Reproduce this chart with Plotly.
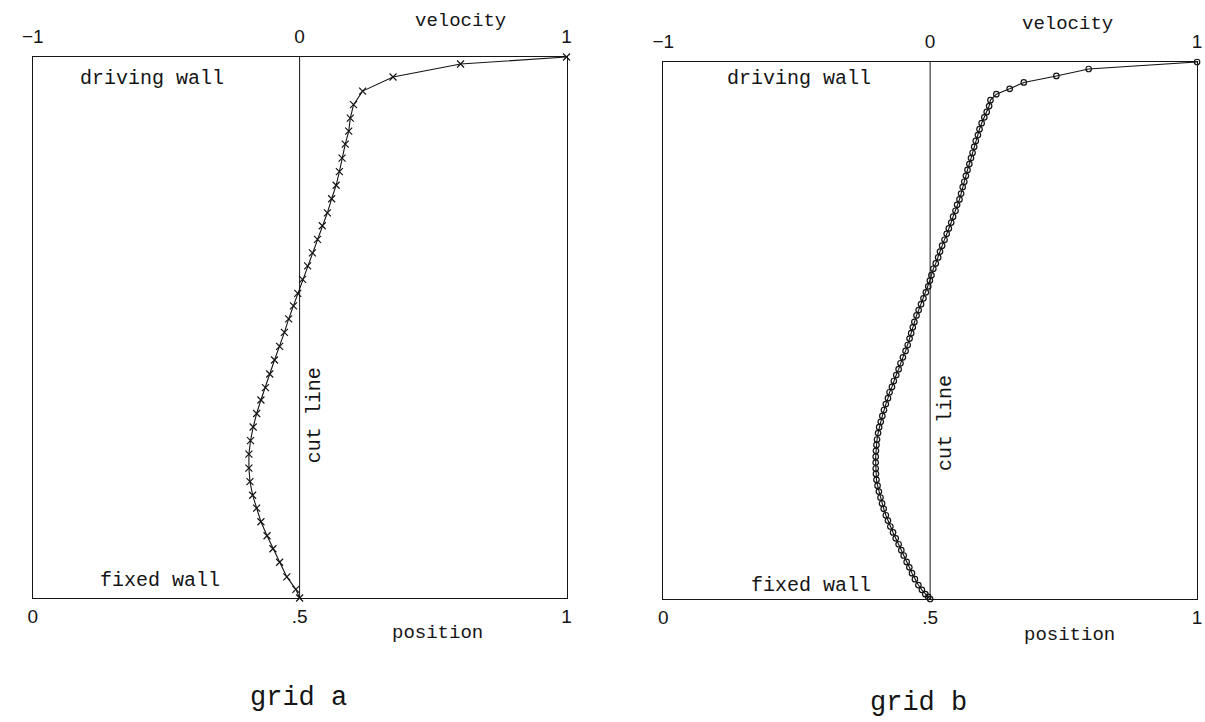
import plotly.graph_objects as go

# ---------------- data ----------------
# grid a : position along cut line (0 = fixed wall, 1 = driving wall) and velocity
pos_a = [0.0, 0.016, 0.039, 0.066, 0.091, 0.115, 0.141, 0.166, 0.19, 0.215, 0.24, 0.266,
         0.291, 0.316, 0.341, 0.366, 0.389, 0.414, 0.44, 0.465, 0.491, 0.516, 0.54, 0.563,
         0.589, 0.614, 0.638, 0.663, 0.688, 0.712, 0.738, 0.763, 0.788, 0.813, 0.839, 0.863,
         0.887, 0.912, 0.937, 0.963, 0.987, 1.0]
vel_a = [0.0, -0.014, -0.048, -0.075, -0.1, -0.122, -0.145, -0.161, -0.176, -0.186, -0.19, -0.19,
         -0.184, -0.174, -0.161, -0.145, -0.128, -0.112, -0.094, -0.075, -0.057, -0.041, -0.023, -0.007,
         0.011, 0.030, 0.048, 0.067, 0.085, 0.104, 0.12, 0.137, 0.149, 0.159, 0.171, 0.184,
         0.19, 0.202, 0.236, 0.35, 0.603, 1.0]

# grid b
pos_b = [0.0, 0.004, 0.009, 0.017, 0.026, 0.037, 0.048, 0.059, 0.069, 0.081, 0.091, 0.102,
         0.113, 0.124, 0.135, 0.146, 0.156, 0.168, 0.178, 0.189, 0.200, 0.211, 0.222, 0.233,
         0.243, 0.254, 0.265, 0.276, 0.287, 0.297, 0.309, 0.320, 0.330, 0.341, 0.352, 0.363,
         0.374, 0.385, 0.395, 0.406, 0.417, 0.428, 0.439, 0.450, 0.462, 0.473, 0.485, 0.495,
         0.506, 0.516, 0.528, 0.538, 0.549, 0.560, 0.571, 0.582, 0.593, 0.603, 0.615, 0.625,
         0.636, 0.647, 0.658, 0.669, 0.680, 0.690, 0.701, 0.712, 0.723, 0.734, 0.744, 0.755,
         0.767, 0.777, 0.788, 0.799, 0.810, 0.821, 0.831, 0.842, 0.853, 0.864, 0.875, 0.886,
         0.897, 0.907, 0.918, 0.929, 0.940, 0.950, 0.962, 0.974, 0.987, 1.0]
vel_b = [0.0, -0.007, -0.018, -0.031, -0.044, -0.057, -0.068, -0.078, -0.088, -0.099, -0.108, -0.118,
         -0.129, -0.139, -0.149, -0.158, -0.166, -0.174, -0.180, -0.186, -0.192, -0.197, -0.201, -0.203,
         -0.204, -0.204, -0.204, -0.203, -0.201, -0.199, -0.195, -0.191, -0.185, -0.179, -0.173, -0.166,
         -0.158, -0.152, -0.143, -0.136, -0.127, -0.118, -0.111, -0.102, -0.092, -0.084, -0.077, -0.071,
         -0.065, -0.059, -0.051, -0.043, -0.034, -0.025, -0.016, -0.007, -0.001, 0.005, 0.012, 0.021,
         0.030, 0.037, 0.045, 0.054, 0.062, 0.070, 0.079, 0.086, 0.095, 0.101, 0.110, 0.116,
         0.122, 0.128, 0.134, 0.140, 0.147, 0.153, 0.159, 0.165, 0.171, 0.179, 0.185, 0.193,
         0.203, 0.212, 0.221, 0.226, 0.248, 0.298, 0.351, 0.473, 0.594, 1.0]

vel_ticks = [-1, 0, 1]
vel_labels = ["\u22121", "0", "1"]
pos_ticks = [0, 0.5, 1]
pos_labels = ["0", ".5", "1"]

INK = "#151515"
MONO = "Liberation Mono"
SANS = "Liberation Sans"

W, H = 1205, 722
# plot boxes in pixels: (left, right, top, bottom)
box_a = (22, 563, 57, 598)
box_b = (661, 1202, 62, 599)


def dom(box):
    l, r, t, b = box
    return [l / W, r / W], [(H - b) / H, (H - t) / H]


fig = go.Figure()

panels = [
    dict(box=box_a, pos=pos_a, vel=vel_a, sym="x-thin-open", size=7, x="x", y="y", xb="x3", name="grid a",
         vel_lbl=(0.802, 1.067), pos_lbl=(0.758, -0.064), grid_lbl=(0.497, -0.185),
         drive=(0.224, 0.961), fixed=(0.238, 0.033), cut=(0.527, 0.338)),
    dict(box=box_b, pos=pos_b, vel=vel_b, sym="circle-open", size=5.5, x="x2", y="y2", xb="x4", name="grid b",
         vel_lbl=(0.758, 1.071), pos_lbl=(0.762, -0.067), grid_lbl=(0.479, -0.194),
         drive=(0.255, 0.970), fixed=(0.277, 0.026), cut=(0.530, 0.328)),
]

for p in panels:
    fig.add_trace(go.Scatter(
        x=p["vel"], y=p["pos"], xaxis=p["x"], yaxis=p["y"],
        mode="lines+markers", name=p["name"], cliponaxis=False,
        line=dict(color=INK, width=1.1),
        marker=dict(symbol=p["sym"], size=p["size"], color=INK,
                    line=dict(color=INK, width=1.2)),
        showlegend=False, hoverinfo="skip"))
    # invisible trace so the bottom "position" scale is drawn
    fig.add_trace(go.Scatter(
        x=pos_ticks, y=[0, 0, 0], xaxis=p["xb"], yaxis=p["y"], mode="markers",
        marker=dict(opacity=0, size=1), showlegend=False, hoverinfo="skip"))

layout = dict(
    width=W, height=H, margin=dict(l=0, r=0, t=0, b=0),
    paper_bgcolor="white", plot_bgcolor="white", showlegend=False,
    font=dict(family=MONO, color=INK),
)

axis_common = dict(showgrid=False, zeroline=False, ticks="", fixedrange=True)

for i, p in enumerate(panels):
    xd, yd = dom(p["box"])
    xn = "xaxis" if i == 0 else "xaxis2"
    yn = "yaxis" if i == 0 else "yaxis2"
    xbn = "xaxis3" if i == 0 else "xaxis4"
    yref = p["y"]
    layout[xn] = dict(axis_common, domain=xd, anchor=yref, range=[-1, 1], side="top",
                      tickmode="array", tickvals=vel_ticks, ticktext=vel_labels,
                      tickfont=dict(family=SANS, size=19, color=INK), ticklabelstandoff=5,
                      showline=True, mirror=True, linecolor=INK, linewidth=1.3)
    layout[yn] = dict(axis_common, domain=yd, anchor=p["x"], range=[0, 1],
                      showticklabels=False, showline=True, mirror=True,
                      linecolor=INK, linewidth=1.3)
    layout[xbn] = dict(axis_common, domain=xd, anchor=yref, overlaying=p["x"], side="bottom",
                       range=[0, 1], tickmode="array", tickvals=pos_ticks, ticktext=pos_labels,
                       tickfont=dict(family=SANS, size=19, color=INK), ticklabelstandoff=5,
                       showline=False)

fig.update_layout(**layout)

shapes = []
annotations = []
for i, p in enumerate(panels):
    xdr = ("x" if i == 0 else "x2") + " domain"
    ydr = ("y" if i == 0 else "y2") + " domain"
    # cut line at velocity 0
    shapes.append(dict(type="line", xref=p["x"], x0=0, x1=0, yref=ydr, y0=0, y1=1,
                       line=dict(color=INK, width=1)))
    txt = [
        ("velocity", p["vel_lbl"], 19, 0),
        ("position", p["pos_lbl"], 19, 0),
        ("driving wall", p["drive"], 20, 0),
        ("fixed wall", p["fixed"], 20, 0),
        ("cut line", p["cut"], 20, -90),
        (p["name"], p["grid_lbl"], 27, 0),
    ]
    for t, (ax, ay), fs, ang in txt:
        annotations.append(dict(text=t, xref=xdr, yref=ydr, x=ax, y=ay, showarrow=False,
                                xanchor="center", yanchor="middle", textangle=ang,
                                font=dict(family=MONO, size=fs, color=INK)))

fig.update_layout(shapes=shapes, annotations=annotations)

fig.write_html("out.html", config={"displayModeBar": False},
               post_script="document.body.style.margin='0';")
